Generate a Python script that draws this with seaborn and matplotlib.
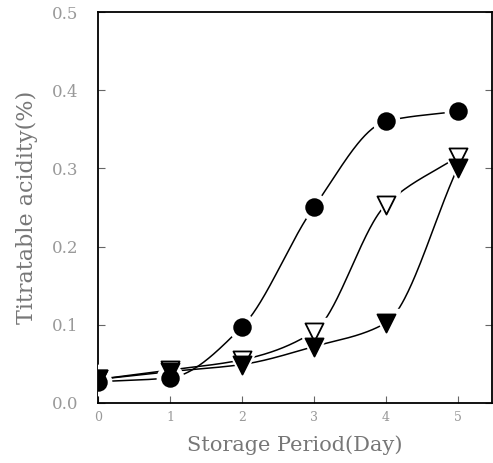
import numpy as np
import pandas as pd
import matplotlib
matplotlib.use("Agg")
import matplotlib.pyplot as plt
import seaborn as sns

# Data
days = [0, 1, 2, 3, 4, 5]
acid_circle = [0.027, 0.032, 0.097, 0.250, 0.360, 0.373]
acid_open_tri = [0.030, 0.042, 0.055, 0.091, 0.253, 0.315]
acid_fill_tri = [0.030, 0.040, 0.049, 0.072, 0.102, 0.300]
y_ticks = [0.0, 0.1, 0.2, 0.3, 0.4, 0.5]
x_ticks = [0, 1, 2, 3, 4, 5]


def pchip(x, y, xs):
    """monotone cubic curve through the points, only used for the drawn line"""
    x = np.asarray(x, float)
    y = np.asarray(y, float)
    h = np.diff(x)
    d = np.diff(y) / h
    m = np.zeros_like(y)
    for k in range(1, len(x) - 1):
        if d[k - 1] * d[k] > 0:
            w1 = 2 * h[k] + h[k - 1]
            w2 = h[k] + 2 * h[k - 1]
            m[k] = (w1 + w2) / (w1 / d[k - 1] + w2 / d[k])
    m[0] = d[0]
    m[-1] = d[-1]
    idx = np.clip(np.searchsorted(x, xs) - 1, 0, len(x) - 2)
    t = (xs - x[idx]) / h[idx]
    h00 = 2 * t**3 - 3 * t**2 + 1
    h10 = t**3 - 2 * t**2 + t
    h01 = -2 * t**3 + 3 * t**2
    h11 = t**3 - t**2
    return (h00 * y[idx] + h10 * h[idx] * m[idx]
            + h01 * y[idx + 1] + h11 * h[idx] * m[idx + 1])


sns.set_style("ticks")
plt.rcParams['font.family'] = ['DejaVu Serif', 'Liberation Serif']

fig = plt.figure(figsize=(4.93, 4.63), dpi=100)
ax = fig.add_axes([0.199, 0.13, 0.799, 0.844])

xs = np.linspace(0, 5, 300)
series = [
    (acid_circle, 'o', 'black', 'black', 12),
    (acid_open_tri, 'v', 'white', 'black', 13),
    (acid_fill_tri, 'v', 'black', 'black', 13),
]

for vals, mk, fc, ec, ms in series:
    curve = pd.DataFrame({'day': xs, 'acid': pchip(days, vals, xs)})
    sns.lineplot(data=curve, x='day', y='acid', color='black', lw=1.1, ax=ax)

# white halos to break the lines near the markers
for vals, mk, fc, ec, ms in series:
    ax.plot(days, vals, ls='none', marker=mk, ms=ms + 7, mfc='white',
            mec='white', zorder=3)
for vals, mk, fc, ec, ms in series:
    pts = pd.DataFrame({'day': days, 'acid': vals})
    sns.scatterplot(data=pts, x='day', y='acid', marker=mk, s=ms**2,
                    facecolor=fc, edgecolor=ec, linewidth=1.3, zorder=4, ax=ax)

ax.set_xlim(0, 5.48)
ax.set_ylim(0, 0.5)
ax.set_xticks(x_ticks)
ax.set_yticks(y_ticks)
ax.set_xticklabels([str(v) for v in x_ticks], color='#999999', fontsize=9)
ax.set_yticklabels([f'{v:.1f}' for v in y_ticks], color='#999999', fontsize=12)
ax.tick_params(direction='in', length=5, width=0.8, right=True, color='#666666')
ax.tick_params(axis='y', pad=14)
ax.tick_params(axis='x', pad=6)
for sp in ax.spines.values():
    sp.set_visible(True)
    sp.set_linewidth(1.3)
    sp.set_color('black')

ax.set_xlabel('Storage Period(Day)', fontsize=15, color='#777777', labelpad=8)
ax.set_ylabel('Titratable acidity(%)', fontsize=16, color='#777777', labelpad=10)

fig.savefig('out.png', dpi=100)
